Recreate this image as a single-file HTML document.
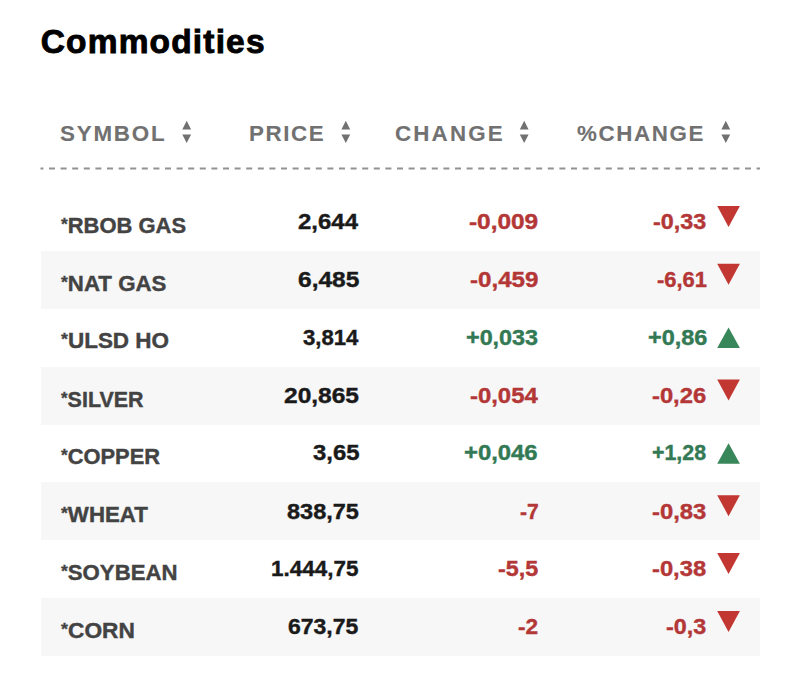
<!DOCTYPE html>
<html><head><meta charset="utf-8"><style>
html,body{margin:0;padding:0;background:#fff;width:800px;height:680px;overflow:hidden}
body{position:relative;font-family:"Liberation Sans",sans-serif;font-weight:bold}
.a{position:absolute;white-space:nowrap;line-height:1;transform-origin:0 0;-webkit-text-stroke:0.4px currentColor}
.rb{position:absolute;left:40.5px;width:719px;height:57.857px;background:#f7f7f7}
svg{position:absolute;left:0;top:0}
</style></head><body>
<div class="rb" style="top:251.06px"></div>
<div class="rb" style="top:366.77px"></div>
<div class="rb" style="top:482.48px"></div>
<div class="rb" style="top:598.20px"></div>
<div class="a" id="title" style="left:40.76px;top:25.47px;font-size:33.5px;color:#000;-webkit-text-stroke:0.9px currentColor;letter-spacing:1.16px;transform:scaleX(1.0)">Commodities</div>
<div class="a" id="h_SYMBOL" style="left:60.06px;top:124.30px;font-size:21.5px;color:#717171;-webkit-text-stroke:0.1px currentColor;letter-spacing:1.72px;transform:scaleX(1.04)">SYMBOL</div>
<div class="a" id="h_PRICE" style="left:248.63px;top:124.30px;font-size:21.5px;color:#717171;-webkit-text-stroke:0.1px currentColor;letter-spacing:1.50px;transform:scaleX(1.04)">PRICE</div>
<div class="a" id="h_CHANGE" style="left:395.16px;top:124.30px;font-size:21.5px;color:#717171;-webkit-text-stroke:0.1px currentColor;letter-spacing:2.07px;transform:scaleX(1.04)">CHANGE</div>
<div class="a" id="h_%CHANGE" style="left:577.26px;top:124.30px;font-size:21.5px;color:#717171;-webkit-text-stroke:0.1px currentColor;letter-spacing:1.55px;transform:scaleX(1.04)">%CHANGE</div>
<div class="a" id="s0" style="left:60.80px;top:216.33px;font-size:21.5px;color:#434343;transform:scaleX(1.0208)"><span style="font-size:17px;vertical-align:3.2px;-webkit-text-stroke:0.3px currentColor">*</span>RBOB GAS</div>
<div class="a" id="p0" style="left:298.03px;top:212.39px;font-size:21.5px;color:#1a1a1a;transform:scaleX(1.1147)">2,644</div>
<div class="a" id="c0" style="left:468.81px;top:211.91px;font-size:21.5px;color:#b43737;transform:scaleX(1.1344)">-0,009</div>
<div class="a" id="q0" style="left:652.87px;top:212.44px;font-size:21.5px;color:#b43737;transform:scaleX(1.0841)">-0,33</div>
<div class="a" id="s1" style="left:60.80px;top:273.75px;font-size:21.5px;color:#434343;transform:scaleX(1.0353)"><span style="font-size:17px;vertical-align:3.2px;-webkit-text-stroke:0.3px currentColor">*</span>NAT GAS</div>
<div class="a" id="p1" style="left:297.97px;top:269.81px;font-size:21.5px;color:#1a1a1a;transform:scaleX(1.1397)">6,485</div>
<div class="a" id="c1" style="left:470.11px;top:269.93px;font-size:21.5px;color:#b43737;transform:scaleX(1.1220)">-0,459</div>
<div class="a" id="q1" style="left:656.84px;top:269.93px;font-size:21.5px;color:#b43737;transform:scaleX(1.0181)">-6,61</div>
<div class="a" id="s2" style="left:60.80px;top:331.17px;font-size:21.5px;color:#434343;transform:scaleX(1.0452)"><span style="font-size:17px;vertical-align:3.2px;-webkit-text-stroke:0.3px currentColor">*</span>ULSD HO</div>
<div class="a" id="p2" style="left:303.33px;top:328.23px;font-size:21.5px;color:#1a1a1a;transform:scaleX(1.0298)">3,814</div>
<div class="a" id="c2" style="left:465.97px;top:327.95px;font-size:21.5px;color:#327954;transform:scaleX(1.0858)">+0,033</div>
<div class="a" id="q2" style="left:647.50px;top:328.06px;font-size:21.5px;color:#327954;transform:scaleX(1.0904)">+0,86</div>
<div class="a" id="s3" style="left:60.80px;top:389.59px;font-size:21.5px;color:#434343;transform:scaleX(0.9977)"><span style="font-size:17px;vertical-align:3.2px;-webkit-text-stroke:0.3px currentColor">*</span>SILVER</div>
<div class="a" id="p3" style="left:283.93px;top:385.65px;font-size:21.5px;color:#1a1a1a;transform:scaleX(1.1403)">20,865</div>
<div class="a" id="c3" style="left:470.12px;top:385.77px;font-size:21.5px;color:#b43737;transform:scaleX(1.1108)">-0,054</div>
<div class="a" id="q3" style="left:652.37px;top:385.55px;font-size:21.5px;color:#b43737;transform:scaleX(1.1048)">-0,26</div>
<div class="a" id="s4" style="left:60.80px;top:447.02px;font-size:21.5px;color:#434343;transform:scaleX(1.0168)"><span style="font-size:17px;vertical-align:3.2px;-webkit-text-stroke:0.3px currentColor">*</span>COPPER</div>
<div class="a" id="p4" style="left:312.70px;top:443.08px;font-size:21.5px;color:#1a1a1a;transform:scaleX(1.1093)">3,65</div>
<div class="a" id="c4" style="left:464.30px;top:443.28px;font-size:21.5px;color:#327954;transform:scaleX(1.1086)">+0,046</div>
<div class="a" id="q4" style="left:652.39px;top:443.08px;font-size:21.5px;color:#327954;transform:scaleX(0.9929)">+1,28</div>
<div class="a" id="s5" style="left:60.80px;top:505.44px;font-size:21.5px;color:#434343;transform:scaleX(1.0358)"><span style="font-size:17px;vertical-align:3.2px;-webkit-text-stroke:0.3px currentColor">*</span>WHEAT</div>
<div class="a" id="p5" style="left:287.04px;top:501.50px;font-size:21.5px;color:#1a1a1a;transform:scaleX(1.0932)">838,75</div>
<div class="a" id="c5" style="left:519.68px;top:501.61px;font-size:21.5px;color:#b43737;transform:scaleX(0.9786)">-7</div>
<div class="a" id="q5" style="left:652.23px;top:501.54px;font-size:21.5px;color:#b43737;transform:scaleX(1.1076)">-0,83</div>
<div class="a" id="s6" style="left:60.80px;top:562.86px;font-size:21.5px;color:#434343;transform:scaleX(1.0312)"><span style="font-size:17px;vertical-align:3.2px;-webkit-text-stroke:0.3px currentColor">*</span>SOYBEAN</div>
<div class="a" id="p6" style="left:271.34px;top:558.92px;font-size:21.5px;color:#1a1a1a;transform:scaleX(1.0441)">1.444,75</div>
<div class="a" id="c6" style="left:498.08px;top:559.03px;font-size:21.5px;color:#b43737;transform:scaleX(1.0841)">-5,5</div>
<div class="a" id="q6" style="left:652.34px;top:558.87px;font-size:21.5px;color:#b43737;transform:scaleX(1.1045)">-0,38</div>
<div class="a" id="s7" style="left:60.80px;top:621.28px;font-size:21.5px;color:#434343;transform:scaleX(1.0561)"><span style="font-size:17px;vertical-align:3.2px;-webkit-text-stroke:0.3px currentColor">*</span>CORN</div>
<div class="a" id="p7" style="left:288.43px;top:617.34px;font-size:21.5px;color:#1a1a1a;transform:scaleX(1.0687)">673,75</div>
<div class="a" id="c7" style="left:518.15px;top:617.46px;font-size:21.5px;color:#b43737;transform:scaleX(1.0506)">-2</div>
<div class="a" id="q7" style="left:666.49px;top:617.34px;font-size:21.5px;color:#b43737;transform:scaleX(1.0843)">-0,3</div>
<svg width="800" height="680" viewBox="0 0 800 680">
<line x1="40.5" y1="168.4" x2="760" y2="168.4" stroke="#929292" stroke-width="2" stroke-dasharray="6 5.6" stroke-dashoffset="3.1"/>
<path d="M182.30 129.4 L186.70 120.8 L191.10 129.4Z M182.30 134.6 L191.10 134.6 L186.70 143Z" fill="#717171"/>
<path d="M341.40 129.4 L345.80 120.8 L350.20 129.4Z M341.40 134.6 L350.20 134.6 L345.80 143Z" fill="#717171"/>
<path d="M519.80 129.4 L524.20 120.8 L528.60 129.4Z M519.80 134.6 L528.60 134.6 L524.20 143Z" fill="#717171"/>
<path d="M721.40 129.4 L725.80 120.8 L730.20 129.4Z M721.40 134.6 L730.20 134.6 L725.80 143Z" fill="#717171"/>
<path d="M717.2 205.90 L739.9 205.90 L728.55 226.90Z" fill="#c33732"/>
<path d="M717.2 263.76 L739.9 263.76 L728.55 284.76Z" fill="#c33732"/>
<path d="M717.2 348.01 L739.9 348.01 L728.55 327.51Z" fill="#37875a"/>
<path d="M717.2 379.47 L739.9 379.47 L728.55 400.47Z" fill="#c33732"/>
<path d="M717.2 463.73 L739.9 463.73 L728.55 443.23Z" fill="#37875a"/>
<path d="M717.2 495.18 L739.9 495.18 L728.55 516.18Z" fill="#c33732"/>
<path d="M717.2 553.04 L739.9 553.04 L728.55 574.04Z" fill="#c33732"/>
<path d="M717.2 610.90 L739.9 610.90 L728.55 631.90Z" fill="#c33732"/>
</svg>
</body></html>
